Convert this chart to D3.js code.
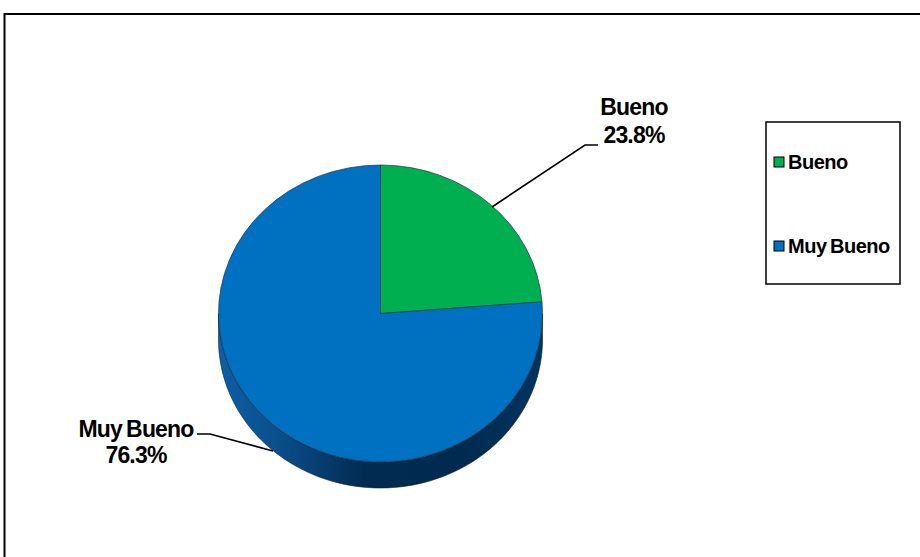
<!DOCTYPE html>
<html>
<head>
<meta charset="utf-8">
<script src="https://cdn.jsdelivr.net/npm/d3@7"></script>
<style>
  html, body { margin: 0; padding: 0; background: #fff; }
  svg { display: block; }
  text { font-family: "Liberation Sans", Arial, sans-serif; font-weight: bold; fill: #000; }
</style>
</head>
<body>
<svg id="chart" width="920" height="557"></svg>
<script>
// ---- data ----
const categories = ["Bueno", "Muy Bueno"];
const values = [23.75, 76.25];
const percentLabels = ["23.8%", "76.3%"];
const colors = ["#00B050", "#0070C0"];

// ---- layout ----
const cx = 380.5, cy = 313.5, rx = 162, ry = 148.5, depth = 26;

const svg = d3.select("#chart");

// outer border
svg.append("rect")
  .attr("x", 4.5).attr("y", 14).attr("width", 930).attr("height", 560)
  .attr("fill", "#fff").attr("stroke", "#000").attr("stroke-width", 2);

const defs = svg.append("defs");
const grad = defs.append("linearGradient").attr("id", "sideBlue")
  .attr("gradientUnits", "userSpaceOnUse")
  .attr("x1", cx - rx).attr("y1", 0).attr("x2", cx + rx).attr("y2", 0);
[[0, "#0d5fa6"], [0.18, "#0a4f8c"], [0.45, "#022b52"], [0.75, "#002a4f"], [1, "#00355f"]]
  .forEach(([o, c]) => grad.append("stop").attr("offset", o).attr("stop-color", c));

const pie = d3.pie().sort(null).value(d => d)(values);

function ept(t, dy) { return [cx + rx * Math.sin(t), cy - ry * Math.cos(t) + (dy || 0)]; }

// sides (visible between PI/2 and 3PI/2)
const sideG = svg.append("g");
pie.forEach((p, i) => {
  const a = Math.max(p.startAngle, Math.PI / 2);
  const b = Math.min(p.endAngle, 3 * Math.PI / 2);
  if (b <= a) return;
  const n = 80;
  const pts = [];
  for (let k = 0; k <= n; k++) pts.push(ept(a + (b - a) * k / n, 0));
  for (let k = n; k >= 0; k--) pts.push(ept(a + (b - a) * k / n, depth));
  sideG.append("path")
    .attr("d", d3.line()(pts) + "Z")
    .attr("fill", i === 1 ? "url(#sideBlue)" : "#007a38")
    .attr("stroke", "#0a1f33").attr("stroke-width", 0.6);
});

// top surface
const arc = d3.arc().innerRadius(0).outerRadius(rx);
svg.append("g")
  .attr("transform", `translate(${cx},${cy}) scale(1,${ry / rx})`)
  .selectAll("path").data(pie).join("path")
  .attr("d", arc)
  .attr("fill", (d, i) => colors[i])
  .attr("stroke", "#1b3347").attr("stroke-width", 0.7)
  .attr("vector-effect", "non-scaling-stroke");

// data labels with leader lines
const labelFont = 23;
const lab = [
  { line: [[492, 207], [585, 145], [598, 145]], x: 634, y1: 115, y2: 143 },
  { line: [[273, 451], [210, 434], [197, 434]], x: 136, y1: 437, y2: 463 }
];
lab.forEach((L, i) => {
  svg.append("path").attr("d", d3.line()(L.line))
    .attr("fill", "none").attr("stroke", "#000").attr("stroke-width", 1.6);
  svg.append("text").attr("x", L.x).attr("y", L.y1).attr("text-anchor", "middle")
    .attr("font-size", labelFont).attr("letter-spacing", -0.8).attr("word-spacing", -1.5).text(categories[i]);
  svg.append("text").attr("x", L.x).attr("y", L.y2).attr("text-anchor", "middle")
    .attr("font-size", labelFont).attr("letter-spacing", -0.8).text(percentLabels[i]);
});

// legend
const lg = svg.append("g");
lg.append("rect").attr("x", 766).attr("y", 122).attr("width", 134).attr("height", 162)
  .attr("fill", "#fff").attr("stroke", "#000").attr("stroke-width", 1.5);
const legY = [162, 246];
categories.forEach((c, i) => {
  lg.append("rect").attr("x", 774).attr("y", legY[i] - 5).attr("width", 10).attr("height", 10)
    .attr("fill", colors[i]).attr("stroke", "#000").attr("stroke-width", 1);
  lg.append("text").attr("x", 788).attr("y", legY[i] + 7)
    .attr("font-size", 20).attr("letter-spacing", -0.5).attr("word-spacing", -1.5).text(c);
});
</script>
</body>
</html>
